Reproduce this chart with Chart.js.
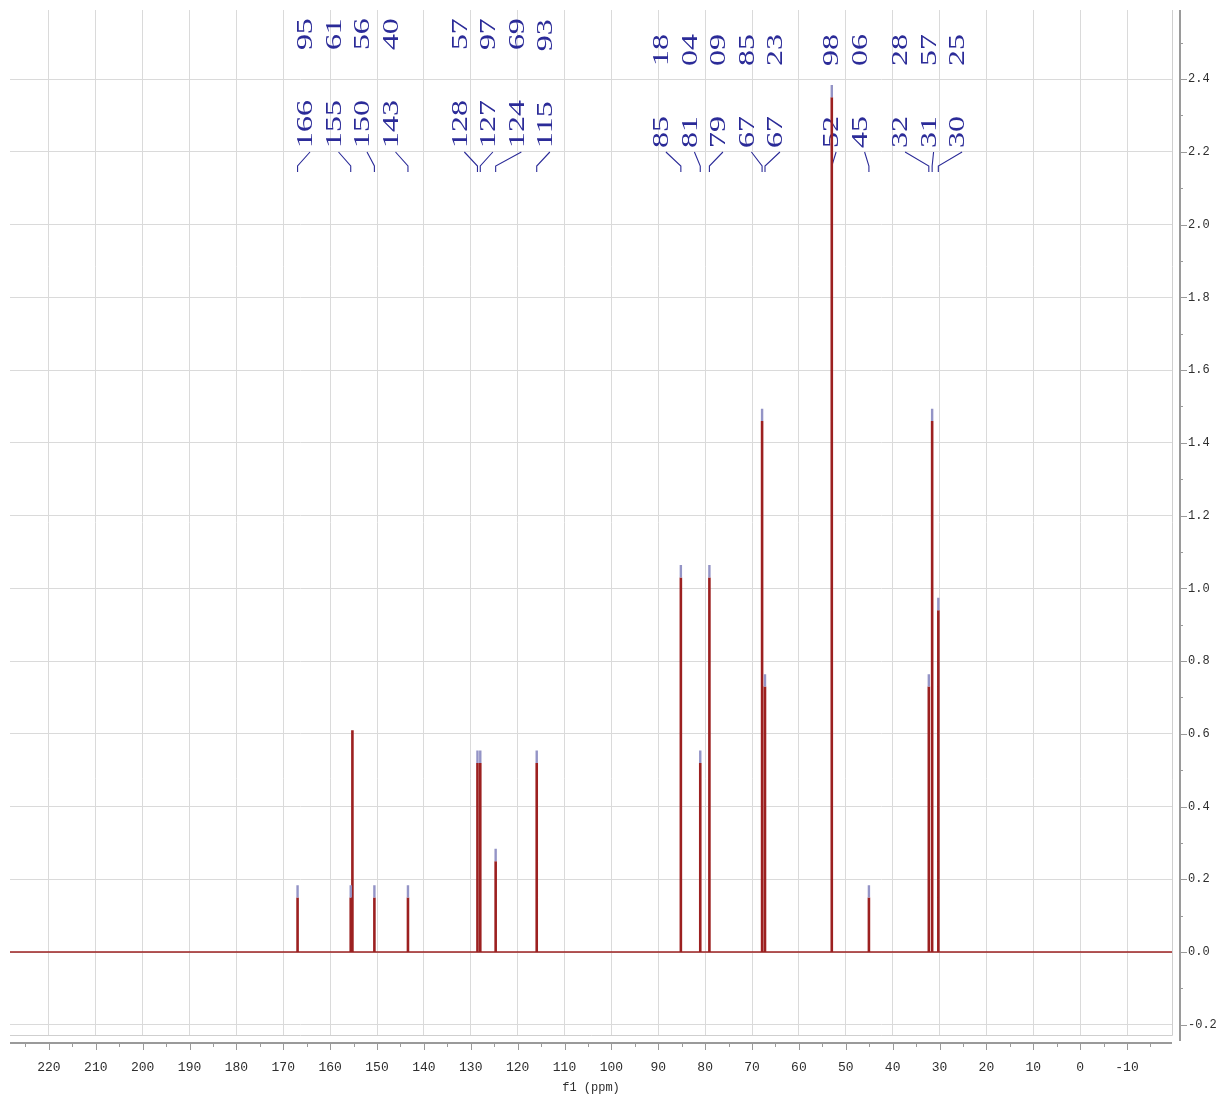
<!DOCTYPE html>
<html>
<head>
<meta charset="utf-8">
<title>13C NMR spectrum</title>
<script src="https://cdn.jsdelivr.net/npm/chart.js@4/dist/chart.umd.min.js"></script>
<style>
  html, body { margin: 0; padding: 0; background: #ffffff; }
  canvas { display: block; }
</style>
</head>
<body>
<canvas id="spec" width="1222" height="1099"></canvas>
<script>
// Picked carbon signals: chemical shift (ppm) and peak intensity
const peakShifts  = [166.95, 155.61, 150.56, 143.40, 128.57, 127.97, 124.69, 115.93,
                     85.18, 81.04, 79.09, 67.85, 67.23, 52.98, 45.06, 32.28, 31.57, 30.25];
const peakHeights = [0.15, 0.15, 0.15, 0.15, 0.52, 0.52, 0.25, 0.52,
                     1.03, 0.52, 1.03, 1.46, 0.73, 2.35, 0.15, 0.73, 1.46, 0.94];

// Signal present in the trace but not picked
const extraShifts  = [155.25];
const extraHeights = [0.61];

// Shift labels that share one bracket (indices into peakShifts)
const labelGroups = [[0, 1, 2, 3], [4, 5, 6, 7], [8, 9, 10, 11, 12], [13, 14], [15, 16, 17]];

// Axis ranges and tick labels
const xRange = [-19.6, 228.3];
const yRange = [-0.228, 2.59];
const xTicks = [220, 210, 200, 190, 180, 170, 160, 150, 140, 130, 120, 110, 100,
                90, 80, 70, 60, 50, 40, 30, 20, 10, 0, -10];
const yTicks = [-0.2, 0.0, 0.2, 0.4, 0.6, 0.8, 1.0, 1.2, 1.4, 1.6, 1.8, 2.0, 2.2, 2.4];

// ---- styling ----
const TRACE = '#9c2020';
const PICK = '#9494c6';
const LABEL = '#2b2b98';
const GRID = '#dadada';
const AXIS = '#9a9a9a';
const TICK_TXT = '#2e2e2e';
const PICK_LEN = 0.034;
const LABEL_STEP = 28.5;

// vertical spikes, one segment per signal
const spikes = [];
peakShifts.concat(extraShifts).forEach((p, i) => {
  const h = i < peakShifts.length ? peakHeights[i] : extraHeights[i - peakShifts.length];
  spikes.push({x: p, y: 0}, {x: p, y: h}, {x: p, y: null});
});
// peak-pick marks sitting on top of each picked signal
const picks = [];
peakShifts.forEach((p, i) => {
  picks.push({x: p, y: peakHeights[i]}, {x: p, y: peakHeights[i] + PICK_LEN}, {x: p, y: null});
});
const baseline = [{x: xRange[1], y: 0}, {x: xRange[0], y: 0}];

const decor = {
  id: 'decor',
  beforeDatasetsDraw(chart) {
    const {ctx, chartArea: a, scales: {x}} = chart;
    ctx.save();
    // plot frame (right and bottom)
    ctx.strokeStyle = '#cfcfcf';
    ctx.lineWidth = 1;
    ctx.beginPath();
    ctx.moveTo(a.right + 0.5, a.top);
    ctx.lineTo(a.right + 0.5, a.bottom + 0.5);
    ctx.lineTo(a.left, a.bottom + 0.5);
    ctx.stroke();

    // shift labels with bracket connectors
    ctx.font = '24px "Liberation Serif", "Times New Roman", serif';
    ctx.fillStyle = LABEL;
    ctx.strokeStyle = LABEL;
    labelGroups.forEach(g => {
      const px = g.map(i => x.getPixelForValue(peakShifts[i]));
      const mid = (Math.min(...px) + Math.max(...px)) / 2;
      g.forEach((i, k) => {
        const slot = mid + (k - (g.length - 1) / 2) * LABEL_STEP;
        ctx.lineWidth = 1.1;
        ctx.beginPath();
        ctx.moveTo(slot, 152);
        ctx.lineTo(px[k], 166);
        ctx.lineTo(px[k], 172);
        ctx.stroke();

        const [ip, fp] = peakShifts[i].toFixed(2).split('.');
        ctx.save();
        ctx.translate(slot - 4, 148);
        ctx.rotate(-Math.PI / 2);
        ctx.scale(1.33, 1);
        ctx.textAlign = 'left';
        ctx.textBaseline = 'middle';
        ctx.fillText(ip, 0, 0);
        const w = ctx.measureText(ip).width;
        ctx.fillText(fp, w + 50 / 1.33, 0);
        ctx.restore();
      });
    });
    ctx.restore();
  },
  afterDraw(chart) {
    const {ctx, chartArea: a, scales: {x, y}} = chart;
    ctx.save();
    ctx.strokeStyle = AXIS;
    // bottom axis
    const ay = a.bottom + 8;
    ctx.lineWidth = 2;
    ctx.beginPath();
    ctx.moveTo(a.left, ay);
    ctx.lineTo(a.right, ay);
    ctx.stroke();
    ctx.lineWidth = 1;
    ctx.beginPath();
    for (let v = 225; v >= -15; v -= 5) {
      const px = Math.round(x.getPixelForValue(v)) + 0.5;
      ctx.moveTo(px, ay);
      ctx.lineTo(px, ay + (v % 10 === 0 ? 7 : 4));
    }
    ctx.stroke();
    // right axis
    const ax = a.right + 8;
    ctx.lineWidth = 2;
    ctx.beginPath();
    ctx.moveTo(ax, a.top);
    ctx.lineTo(ax, a.bottom + 6);
    ctx.stroke();
    ctx.lineWidth = 1;
    ctx.beginPath();
    for (let k = -2; k <= 25; k++) {
      const py = Math.round(y.getPixelForValue(k / 10)) + 0.5;
      ctx.moveTo(ax, py);
      ctx.lineTo(ax + (k % 2 === 0 ? 7 : 3), py);
    }
    ctx.stroke();
    ctx.restore();
  }
};

const tickFont = {family: '"Liberation Mono", "DejaVu Sans Mono", monospace', size: 13};

new Chart(document.getElementById('spec'), {
  type: 'line',
  data: {
    datasets: [
      {data: baseline, borderColor: TRACE, borderWidth: 1.6, pointRadius: 0, order: 3},
      {data: spikes, borderColor: TRACE, borderWidth: 2.6, pointRadius: 0, spanGaps: false,
       borderCapStyle: 'butt', order: 2},
      {data: picks, borderColor: PICK, borderWidth: 2.4, pointRadius: 0, spanGaps: false,
       borderCapStyle: 'butt', order: 1}
    ]
  },
  options: {
    responsive: false,
    animation: false,
    devicePixelRatio: 1,
    events: [],
    layout: {padding: {left: 10, top: 10, right: 0, bottom: 0}},
    plugins: {legend: {display: false}, tooltip: {enabled: false}},
    scales: {
      x: {
        type: 'linear', reverse: true, min: xRange[0], max: xRange[1],
        afterBuildTicks: s => { s.ticks = xTicks.map(v => ({value: v})); },
        afterFit: s => { s.height = 64; s.paddingLeft = 0; s.paddingRight = 0; },
        grid: {color: GRID, lineWidth: 1, drawTicks: false},
        border: {display: false},
        ticks: {autoSkip: false, maxRotation: 0, padding: 25, color: TICK_TXT, font: tickFont,
                callback: v => String(v)},
        title: {display: true, text: 'f1 (ppm)', color: TICK_TXT,
                font: {family: tickFont.family, size: 12}, padding: {top: 0, bottom: 4}}
      },
      y: {
        type: 'linear', position: 'right', min: yRange[0], max: yRange[1],
        afterBuildTicks: s => { s.ticks = yTicks.map(v => ({value: v})); },
        afterFit: s => { s.width = 50; s.paddingTop = 0; s.paddingBottom = 0; },
        grid: {color: GRID, lineWidth: 1, drawTicks: false},
        border: {display: false},
        ticks: {padding: 16, color: TICK_TXT, font: {family: tickFont.family, size: 12},
                callback: v => v.toFixed(1)}
      }
    }
  },
  plugins: [decor]
});
</script>
</body>
</html>
